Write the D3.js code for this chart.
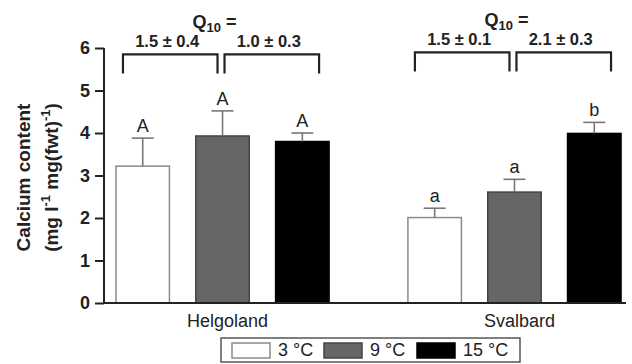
<!DOCTYPE html>
<html>
<head>
<meta charset="utf-8">
<script src="https://cdn.jsdelivr.net/npm/d3@7"></script>
<style>
  body { margin: 0; background: #fff; }
  svg { display: block; font-family: "Liberation Sans", Arial, Helvetica, sans-serif; }
</style>
</head>
<body>
<svg width="632" height="364"></svg>
<script>
const WIDTH = 632, HEIGHT = 364;

// data
const sites = ["Helgoland", "Svalbard"];
const temps = ["3 °C", "9 °C", "15 °C"];
const meanValues = [[3.22, 3.93, 3.80], [2.01, 2.61, 3.99]];
const errorValues = [[0.66, 0.59, 0.20], [0.22, 0.30, 0.26]];
const sigLetters = [["A", "A", "A"], ["a", "a", "b"]];
const q10Labels = [["1.5 ± 0.4", "1.0 ± 0.3"], ["1.5 ± 0.1", "2.1 ± 0.3"]];
const yTicks = [0, 1, 2, 3, 4, 5, 6];

const fills = ["#ffffff", "#666666", "#000000"];
const strokes = ["#8a8a8a", "#444444", "#000000"];

function drawChart(svg) {
    const left = 104, bottom = 303, top = 48;

    const y = d3.scaleLinear().domain([0, 6]).range([bottom, top]);

    const x0 = d3.scaleBand()
        .domain(sites)
        .range([104, 633])
        .paddingInner(0.27)
        .paddingOuter(0.041);

    const x1 = d3.scaleBand()
        .domain(temps)
        .range([0, x0.bandwidth()])
        .paddingInner(0.33)
        .paddingOuter(0);

    const rows = [];
    sites.forEach((s, i) => {
        temps.forEach((t, j) => {
            rows.push({site: s, temp: t, j: j, mean: meanValues[i][j], err: errorValues[i][j], letter: sigLetters[i][j]});
        });
    });

    const g = svg.append("g");

    // bars
    g.selectAll("rect.bar")
        .data(rows)
        .enter().append("rect")
        .attr("class", "bar")
        .attr("x", d => x0(d.site) + x1(d.temp))
        .attr("y", d => y(d.mean))
        .attr("width", x1.bandwidth())
        .attr("height", d => y(0) - y(d.mean))
        .style("fill", d => fills[d.j])
        .style("stroke", d => strokes[d.j])
        .style("stroke-width", "1.5px");

    // error bars (upper only)
    const cx = d => x0(d.site) + x1(d.temp) + x1.bandwidth() / 2;
    g.selectAll("line.err")
        .data(rows)
        .enter().append("line")
        .attr("x1", cx).attr("x2", cx)
        .attr("y1", d => y(d.mean)).attr("y2", d => y(d.mean + d.err))
        .style("stroke", "#777").style("stroke-width", "1.6px");
    g.selectAll("line.cap")
        .data(rows)
        .enter().append("line")
        .attr("x1", d => cx(d) - 11).attr("x2", d => cx(d) + 11)
        .attr("y1", d => y(d.mean + d.err)).attr("y2", d => y(d.mean + d.err))
        .style("stroke", "#777").style("stroke-width", "1.6px");

    g.selectAll("text.letter")
        .data(rows)
        .enter().append("text")
        .attr("x", cx)
        .attr("y", d => y(d.mean + d.err) - 6)
        .attr("text-anchor", "middle")
        .style("font-size", "18px")
        .style("fill", "#222")
        .text(d => d.letter);

    // y axis
    const yAxis = d3.axisLeft(y).tickValues(yTicks).tickFormat(d3.format("d")).tickSize(9).tickPadding(5);
    const ya = svg.append("g").attr("transform", `translate(${left},0)`).call(yAxis);
    ya.select(".domain").attr("d", `M0,${top}V${bottom}`).style("stroke", "#222").style("stroke-width", "2px");
    ya.selectAll(".tick line").style("stroke", "#222").style("stroke-width", "2px");
    ya.selectAll(".tick text")
        .style("font-size", "18px").style("font-weight", "bold")
        .style("font-family", "Liberation Sans, Arial").style("fill", "#222");

    // x axis baseline
    svg.append("line")
        .attr("x1", left).attr("x2", 626)
        .attr("y1", y(0)).attr("y2", y(0))
        .style("stroke", "#222").style("stroke-width", "2px");

    svg.selectAll("text.site")
        .data(sites)
        .enter().append("text")
        .attr("x", d => x0(d) + x0.bandwidth() / 2 + 5)
        .attr("y", 327)
        .attr("text-anchor", "middle")
        .style("font-size", "18px")
        .style("fill", "#222")
        .text(d => d);

    // y label
    const yl = svg.append("text")
        .attr("transform", `translate(30,${(top + bottom) / 2 + 2}) rotate(-90)`)
        .attr("text-anchor", "middle")
        .style("font-size", "19px").style("font-weight", "bold").style("fill", "#222");
    yl.append("tspan").attr("x", 0).attr("dy", 0).text("Calcium content");
    const yl2 = yl.append("tspan").attr("x", 0).attr("dy", 28);
    yl2.append("tspan").text("(mg l");
    yl2.append("tspan").attr("dy", -8).style("font-size", "13px").text("-1");
    yl2.append("tspan").attr("dy", 8).text(" mg(fwt)");
    yl2.append("tspan").attr("dy", -8).style("font-size", "13px").text("-1");
    yl2.append("tspan").attr("dy", 8).text(")");

    // Q10 brackets
    const bTop = y(5.85), bBot = y(5.4);
    sites.forEach((s, i) => {
        const c = j => x0(s) + x1(temps[j]) + x1.bandwidth() / 2;
        const spans = [
            [x0(s) + x1(temps[0]) + 7, c(1) - 5],
            [c(1) + 2, x0(s) + x1(temps[2]) + x1.bandwidth() - 10]
        ];
        const lift = i === 0 ? 0 : 2;
        spans.forEach((sp, k) => {
            svg.append("path")
                .attr("d", `M${sp[0]},${bBot - lift}V${bTop - lift}H${sp[1]}V${bBot - lift}`)
                .style("fill", "none").style("stroke", "#222").style("stroke-width", "2.2px");
            svg.append("text")
                .attr("x", (sp[0] + sp[1]) / 2 - 3)
                .attr("y", 47 - lift)
                .attr("text-anchor", "middle")
                .style("font-size", "16.5px").style("font-weight", "bold").style("fill", "#222")
                .text(q10Labels[i][k]);
        });
        const q = svg.append("text")
            .attr("x", c(1) - 8)
            .attr("y", 28 - lift)
            .attr("text-anchor", "middle")
            .style("font-size", "18px").style("font-weight", "bold").style("fill", "#222");
        q.append("tspan").text("Q");
        q.append("tspan").attr("dy", 4).style("font-size", "13px").text("10");
        q.append("tspan").attr("dy", -4).text(" =");
    });

    // legend
    const legend = svg.append("g");
    legend.append("rect")
        .attr("x", 221).attr("y", 338).attr("width", 299).attr("height", 24)
        .style("fill", "#fff").style("stroke", "#555").style("stroke-width", "1.5px");
    const lx = [232, 324, 417];
    temps.forEach((t, j) => {
        legend.append("rect")
            .attr("x", lx[j]).attr("y", 343).attr("width", 38).attr("height", 15)
            .style("fill", fills[j]).style("stroke", strokes[j]).style("stroke-width", "1.5px");
        legend.append("text")
            .attr("x", lx[j] + 46).attr("y", 356)
            .style("font-size", "18px").style("fill", "#222")
            .text(t);
    });
}

drawChart(d3.select("svg"));
</script>
</body>
</html>
